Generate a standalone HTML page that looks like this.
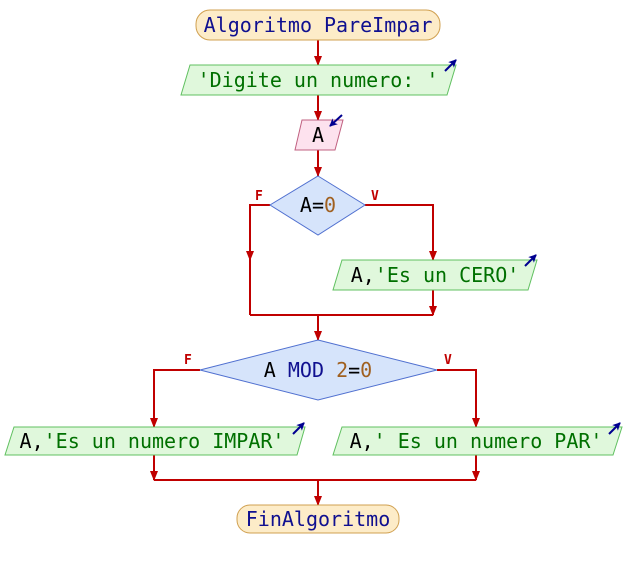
<!DOCTYPE html>
<html><head><style>body{margin:0;background:#fff}svg{display:block}text{font-family:"DejaVu Sans Mono","Liberation Mono",monospace;font-size:20px}</style></head>
<body>
<svg width="624" height="570" viewBox="0 0 624 570">
<defs>
<marker id="a" markerWidth="10" markerHeight="8" refX="9" refY="4" orient="auto" markerUnits="userSpaceOnUse"><path d="M0,0 L10,4 L0,8z" fill="#c00000"/></marker>
<marker id="b" markerWidth="8" markerHeight="8" refX="7" refY="4" orient="auto" markerUnits="userSpaceOnUse"><path d="M0,0 L8,4 L0,8 L2,4z" fill="#000090"/></marker>
</defs>
<g stroke="#c00000" stroke-width="2" fill="none">
<line x1="318" y1="40" x2="318" y2="65" marker-end="url(#a)"/>
<line x1="318" y1="95" x2="318" y2="120" marker-end="url(#a)"/>
<line x1="318" y1="150" x2="318" y2="176" marker-end="url(#a)"/>
<polyline points="270,205 250,205 250,260" marker-end="url(#a)"/>
<line x1="250" y1="258" x2="250" y2="315"/>
<polyline points="365,205 433,205 433,260" marker-end="url(#a)"/>
<line x1="433" y1="290" x2="433" y2="315" marker-end="url(#a)"/>
<line x1="250" y1="315" x2="433" y2="315"/>
<line x1="318" y1="315" x2="318" y2="340" marker-end="url(#a)"/>
<polyline points="200,370 154,370 154,427" marker-end="url(#a)"/>
<polyline points="437,370 476,370 476,427" marker-end="url(#a)"/>
<line x1="154" y1="455" x2="154" y2="480" marker-end="url(#a)"/>
<line x1="476" y1="455" x2="476" y2="480" marker-end="url(#a)"/>
<line x1="154" y1="480" x2="476" y2="480"/>
<line x1="318" y1="480" x2="318" y2="505" marker-end="url(#a)"/>
</g>
<rect x="196" y="10" width="244" height="30" rx="14" fill="#fdecc8" stroke="#d0a050"/>
<text x="318" y="32" text-anchor="middle" fill="#101090">Algoritmo PareImpar</text>
<polygon points="190,65 456,65 447,95 181,95" fill="#e0f8dc" stroke="#60c060"/>
<text x="318" y="87" text-anchor="middle" fill="#007000">'Digite un numero: '</text>
<line x1="445" y1="71" x2="456" y2="60" stroke="#000090" stroke-width="2" marker-end="url(#b)"/>
<polygon points="302,120 343,120 335,150 295,150" fill="#fde2ee" stroke="#c06080"/>
<text x="318" y="142" text-anchor="middle" fill="#000">A</text>
<line x1="342" y1="115" x2="330" y2="126" stroke="#000090" stroke-width="2" marker-end="url(#b)"/>
<polygon points="318,176 365,205 318,235 270,205" fill="#d6e4fb" stroke="#5070d0"/>
<text x="318" y="212" text-anchor="middle"><tspan fill="#000">A=</tspan><tspan fill="#a06020">0</tspan></text>
<text x="255" y="200" fill="#c00000" style="font-size:13px;font-weight:bold">F</text>
<text x="371" y="200" fill="#c00000" style="font-size:13px;font-weight:bold">V</text>
<polygon points="342,260 537,260 528,290 333,290" fill="#e0f8dc" stroke="#60c060"/>
<text x="435" y="282" text-anchor="middle"><tspan fill="#000">A,</tspan><tspan fill="#007000">'Es un CERO'</tspan></text>
<line x1="525" y1="266" x2="536" y2="255" stroke="#000090" stroke-width="2" marker-end="url(#b)"/>
<polygon points="318,340 437,370 318,400 200,370" fill="#d6e4fb" stroke="#5070d0"/>
<text x="318" y="377" text-anchor="middle"><tspan fill="#000">A </tspan><tspan fill="#101090">MOD </tspan><tspan fill="#a06020">2</tspan><tspan fill="#000">=</tspan><tspan fill="#a06020">0</tspan></text>
<text x="184" y="364" fill="#c00000" style="font-size:13px;font-weight:bold">F</text>
<text x="444" y="364" fill="#c00000" style="font-size:13px;font-weight:bold">V</text>
<polygon points="14,427 305,427 297,455 5,455" fill="#e0f8dc" stroke="#60c060"/>
<text x="152" y="448" text-anchor="middle"><tspan fill="#000">A,</tspan><tspan fill="#007000">'Es un numero IMPAR'</tspan></text>
<line x1="293" y1="434" x2="304" y2="423" stroke="#000090" stroke-width="2" marker-end="url(#b)"/>
<polygon points="342,427 622,427 613,455 333,455" fill="#e0f8dc" stroke="#60c060"/>
<text x="476" y="448" text-anchor="middle"><tspan fill="#000">A,</tspan><tspan fill="#007000">' Es un numero PAR'</tspan></text>
<line x1="609" y1="434" x2="620" y2="423" stroke="#000090" stroke-width="2" marker-end="url(#b)"/>
<rect x="237" y="505" width="162" height="28" rx="13" fill="#fdecc8" stroke="#d0a050"/>
<text x="318" y="526" text-anchor="middle" fill="#101090">FinAlgoritmo</text>
</svg>
</body></html>
